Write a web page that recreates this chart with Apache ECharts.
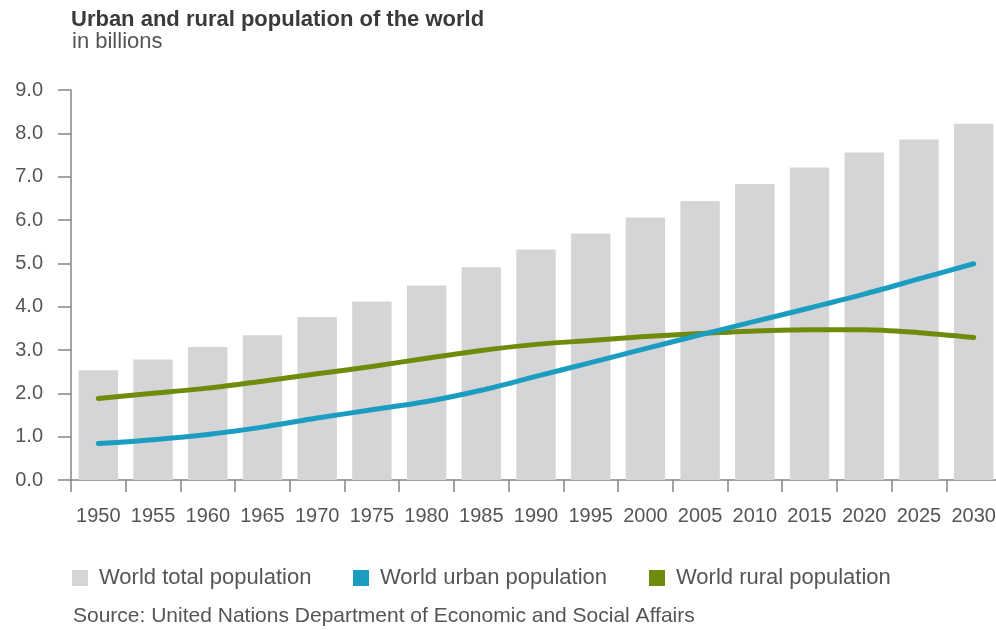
<!DOCTYPE html>
<html>
<head>
<meta charset="utf-8">
<script src="https://cdn.jsdelivr.net/npm/echarts@6/dist/echarts.min.js"></script>
<style>
  html, body { margin: 0; padding: 0; background: #ffffff; }
  #chart { width: 996px; height: 630px; }
</style>
</head>
<body>
<div id="chart"></div>
<script>
// Years on the category axis
const years = ['1950', '1955', '1960', '1965', '1970', '1975', '1980', '1985', '1990',
               '1995', '2000', '2005', '2010', '2015', '2020', '2025', '2030'];

// Population in billions
const totalPopulation = [2.53, 2.78, 3.07, 3.34, 3.76, 4.12, 4.49, 4.91, 5.32,
                         5.69, 6.06, 6.44, 6.83, 7.21, 7.56, 7.86, 8.22];
const urbanPopulation = [0.84, 0.93, 1.05, 1.22, 1.43, 1.62, 1.81, 2.07, 2.39,
                         2.71, 3.03, 3.35, 3.66, 3.97, 4.29, 4.64, 4.99];
const ruralPopulation = [1.88, 2.00, 2.12, 2.28, 2.45, 2.62, 2.81, 2.99, 3.13,
                         3.22, 3.31, 3.38, 3.44, 3.47, 3.47, 3.40, 3.29];

// Value axis ticks
const yMin = 0, yMax = 9, yStep = 1;

const FONT = '"Liberation Sans", Arial, Helvetica, sans-serif';
const TEXT = '#555555';
const AXIS = '#858585';
const C_TOTAL = '#d5d5d7';
const C_URBAN = '#1b9dc2';
const C_RURAL = '#6e8b0c';

const chart = echarts.init(document.getElementById('chart'), null, { renderer: 'canvas' });

chart.setOption({
  backgroundColor: '#ffffff',
  animation: false,
  title: [
    {
      text: 'Urban and rural population of the world',
      left: 71, top: 9, padding: 0,
      textStyle: { fontFamily: FONT, fontSize: 22, fontWeight: 'bold', color: '#3a3a3a' }
    },
    {
      text: 'in billions',
      left: 72, top: 31, padding: 0,
      textStyle: { fontFamily: FONT, fontSize: 22, fontWeight: 'normal', color: TEXT }
    },
    {
      text: 'Source: United Nations Department of Economic and Social Affairs',
      left: 73, top: 606, padding: 0,
      textStyle: { fontFamily: FONT, fontSize: 21, fontWeight: 'normal', color: TEXT }
    }
  ],
  legend: [
    { name: 'World total population', x: 72 },
    { name: 'World urban population', x: 353 },
    { name: 'World rural population', x: 649 }
  ].map(function (l) {
    return {
      data: [{ name: l.name, icon: 'rect' }],
      left: l.x, top: 567, padding: 0,
      itemWidth: 16, itemHeight: 16, itemGap: 0,
      textStyle: { fontFamily: FONT, fontSize: 22, color: TEXT, padding: [0, 0, 0, 6] },
      selectedMode: false
    };
  }),
  // The plot runs slightly past the right edge, so the last year is clipped
  grid: { left: 71, top: 90, width: 930, bottom: 150, containLabel: false,
          outerBoundsMode: 'none' },
  xAxis: {
    type: 'category',
    data: years,
    boundaryGap: true,
    axisLine: { show: true, lineStyle: { color: AXIS, width: 1.5 } },
    axisTick: { show: true, length: 12, inside: false, alignWithLabel: false,
                lineStyle: { color: AXIS, width: 1.5 } },
    axisLabel: { fontFamily: FONT, fontSize: 20, color: TEXT, margin: 26, interval: 0,
                 hideOverlap: false },
    splitLine: { show: false }
  },
  yAxis: {
    type: 'value',
    min: yMin, max: yMax, interval: yStep,
    axisLine: { show: true, lineStyle: { color: AXIS, width: 1.5 } },
    axisTick: { show: true, length: 13, inside: false, lineStyle: { color: AXIS, width: 1.5 } },
    axisLabel: {
      fontFamily: FONT, fontSize: 20, color: TEXT, margin: 28,
      formatter: function (v) { return v.toFixed(1); }
    },
    splitLine: { show: false }
  },
  series: [
    {
      name: 'World total population',
      type: 'bar',
      data: totalPopulation,
      barCategoryGap: '28%',
      itemStyle: { color: C_TOTAL },
      z: 1
    },
    {
      name: 'World urban population',
      type: 'line',
      data: urbanPopulation,
      smooth: 0.3,
      symbol: 'none',
      itemStyle: { color: C_URBAN },
      lineStyle: { color: C_URBAN, width: 5, cap: 'round', join: 'round' },
      z: 3
    },
    {
      name: 'World rural population',
      type: 'line',
      data: ruralPopulation,
      smooth: 0.3,
      symbol: 'none',
      itemStyle: { color: C_RURAL },
      lineStyle: { color: C_RURAL, width: 5, cap: 'round', join: 'round' },
      z: 2
    }
  ]
});
</script>
</body>
</html>
